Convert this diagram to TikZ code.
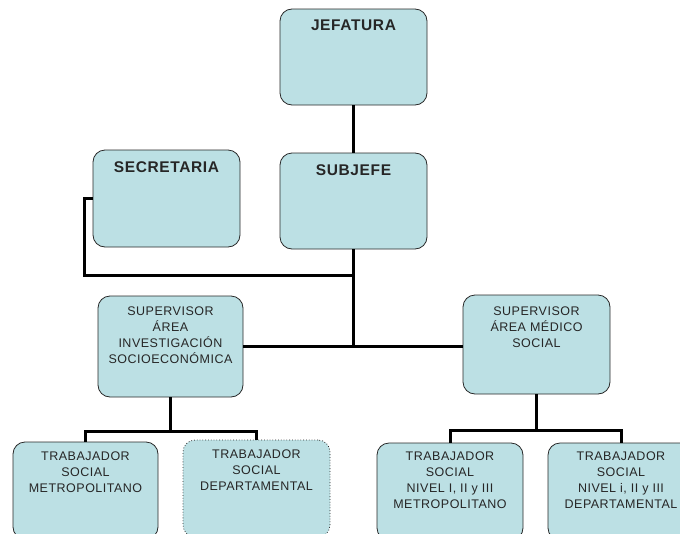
\documentclass[tikz,border=0pt]{standalone}
\usepackage{fontspec}
\setmainfont{Liberation Sans}
\newfontfamily\spacedfont[LetterSpace=4]{Liberation Sans}
\definecolor{boxfill}{RGB}{188,224,228}
\definecolor{boxline}{RGB}{40,40,40}
\begin{document}
\begin{tikzpicture}[x=1pt,y=-1pt,
  box/.style={draw=boxline, line width=0.8pt, fill=boxfill, rounded corners=12pt, inner sep=0pt},
  lbl/.style={font=\spacedfont\fontsize{12.5}{16}\selectfont, align=center, inner sep=0pt, anchor=north, text=black!85},
  blbl/.style={font=\spacedfont\bfseries\fontsize{15.5}{18}\selectfont, align=center, inner sep=0pt, anchor=north, text=black!85},
  conn/.style={line width=3pt, black}]
\useasboundingbox (0,0) rectangle (680,533);
\clip (0,0) rectangle (680,533);
% boxes
\node[box, minimum width=147pt, minimum height=96pt] (jef) at (353.5,57) {};
\node[box, minimum width=147pt, minimum height=96pt] (sub) at (353.5,201) {};
\node[box, minimum width=147pt, minimum height=97pt] (sec) at (166.5,198.5) {};
\node[box, minimum width=145pt, minimum height=101pt] (supl) at (170.5,346.5) {};
\node[box, minimum width=147pt, minimum height=99pt] (supr) at (536.5,344.5) {};
\node[box, minimum width=145pt, minimum height=97pt] (b1) at (85.5,490.5) {};
\node[box, dotted, minimum width=147pt, minimum height=97pt] (b2) at (256.5,488.5) {};
\node[box, minimum width=146pt, minimum height=97pt] (b3) at (450,491.5) {};
\node[box, minimum width=146pt, minimum height=97pt] (b4) at (621,491.5) {};
% texts
\node[blbl] (jefT) at ([yshift=-11pt]jef.north) {JEFATURA};
\node[blbl] (subT) at ([yshift=-12pt]sub.north) {SUBJEFE};
\node[blbl] (secT) at ([yshift=-12pt]sec.north) {SECRETARIA};
\node[lbl] (suplT) at ([yshift=-11pt]supl.north) {SUPERVISOR\\ÁREA\\INVESTIGACIÓN\\SOCIOECONÓMICA};
\node[lbl] (suprT) at ([yshift=-12pt]supr.north) {SUPERVISOR\\ÁREA MÉDICO\\SOCIAL};
\node[lbl] (b1T) at ([yshift=-10pt]b1.north) {TRABAJADOR\\SOCIAL\\METROPOLITANO};
\node[lbl] (b2T) at ([yshift=-10pt]b2.north) {TRABAJADOR\\SOCIAL\\DEPARTAMENTAL};
\node[lbl] (b3T) at ([yshift=-9pt]b3.north) {TRABAJADOR\\SOCIAL\\NIVEL I, II y III\\METROPOLITANO};
\node[lbl] (b4T) at ([yshift=-9pt]b4.north) {TRABAJADOR\\SOCIAL\\NIVEL i, II y III\\DEPARTAMENTAL};
% connectors
\coordinate (secbend) at (84,275);
\coordinate (hl) at (0,431);
\coordinate (hr) at (0,430);
\draw[conn] (jef.south) -- (sub.north);
\draw[conn] (sub.south) -- (sub.south |- supl.east);
\draw[conn] (supl.east) -- (supl.east -| supr.west);
\draw[conn] (sec.west) -| (secbend) -- (secbend -| sub.south);
\draw[conn] (supl.south) -- (supl.south |- hl);
\draw[conn] (b1.north) -- (b1.north |- hl) -- (b2.north |- hl) -- (b2.north);
\draw[conn] (supr.south) -- (supr.south |- hr);
\draw[conn] (b3.north) -- (b3.north |- hr) -- (b4.north |- hr) -- (b4.north);
\end{tikzpicture}
\end{document}
